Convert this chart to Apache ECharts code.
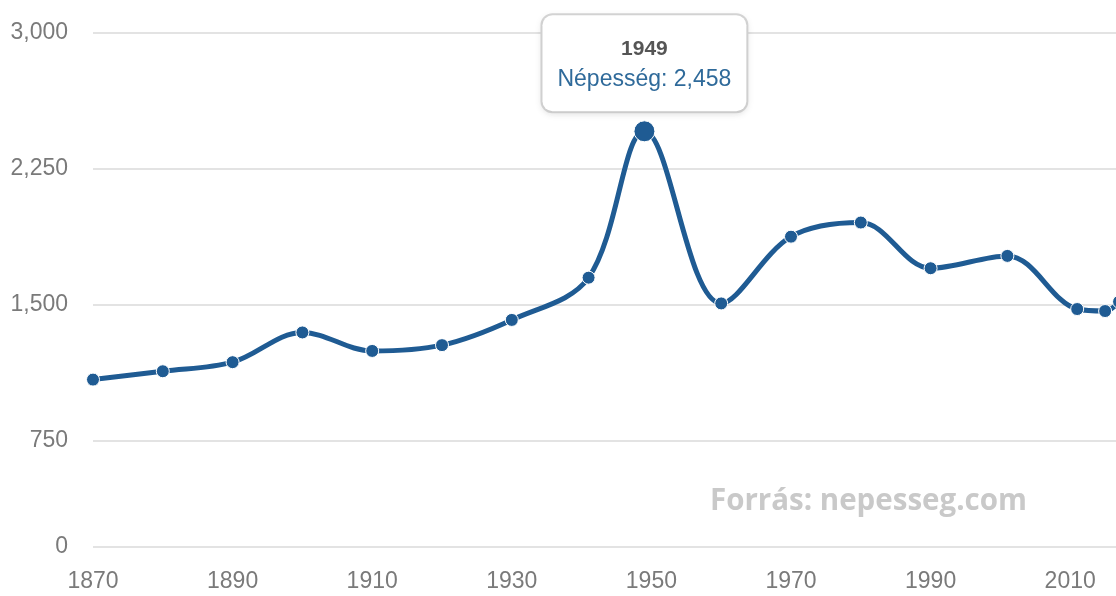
<!DOCTYPE html>
<html>
<head>
<meta charset="utf-8">
<script src="https://cdn.jsdelivr.net/npm/echarts@6/dist/echarts.min.js"></script>
<style>
	html, body { margin: 0; padding: 0; background: #fff; }
	#chart { width: 1116px; height: 596px; }
</style>
</head>
<body>
<div id="chart"></div>
<script>
const years = [1870, 1880, 1890, 1900, 1910, 1920, 1930, 1941, 1949, 1960, 1970, 1980, 1990, 2001, 2011, 2015, 2017]
const population = [1089, 1135, 1185, 1349, 1247, 1279, 1418, 1651, 2458, 1509, 1877, 1955, 1703, 1771, 1478, 1467, 1518]
const highlightYear = 1949

// the reference squeezes its lowest band, so the "0" line sits at this value
const yBase = 166
const yTickValues = [yBase, 750, 1500, 2250, 3000]
const yTickLabels = ['0', '750', '1,500', '2,250', '3,000']

const lineColor = '#1f5b93'
const fmt = v => v.toLocaleString('en-US')

const chart = echarts.init(document.getElementById('chart'))

const seriesData = years.map((y, i) => {
	const item = { value: [y, population[i]] }
	if (y === highlightYear) {
		item.symbolSize = 21
		item.label = {
			show: true,
			position: 'top',
			distance: 9,
			formatter: p => `{year|${p.value[0]}}\n{val|Népesség: ${fmt(p.value[1])}}`,
			backgroundColor: '#fff',
			borderColor: '#d6d6d6',
			borderWidth: 2,
			borderRadius: 10,
			padding: [18, 15, 16, 15],
			shadowColor: 'rgba(0,0,0,0.08)',
			shadowBlur: 6,
			shadowOffsetY: 2,
			align: 'center',
			rich: {
				year: { fontSize: 21, fontWeight: 'bold', color: '#555', lineHeight: 31, align: 'center', fontFamily: 'Liberation Sans' },
				val: { fontSize: 23, color: '#2f6a9a', lineHeight: 31, align: 'center', fontFamily: 'Liberation Sans' },
			},
		}
	}
	return item
})

const option = {
	animation: false,
	grid: { left: 93, width: 1047, top: 33, bottom: 49, outerBoundsMode: 'none' },
	xAxis: {
		type: 'value',
		min: 1870,
		max: 2020,
		interval: 20,
		axisLine: { show: false },
		axisTick: { show: false },
		splitLine: { show: false },
		axisLabel: {
			margin: 23,
			fontSize: 23,
			color: '#7a7a7a',
			fontFamily: 'Liberation Sans',
			showMaxLabel: false,
			formatter: v => String(v),
		},
	},
	yAxis: {
		type: 'value',
		min: yBase,
		max: 3000,
		axisLine: { show: false },
		axisTick: { show: false, customValues: yTickValues },
		splitLine: { show: true, lineStyle: { color: '#e3e3e3', width: 2 } },
		axisLabel: {
			margin: 25,
			fontSize: 23,
			color: '#7a7a7a',
			fontFamily: 'Liberation Sans',
			customValues: yTickValues,
			formatter: v => yTickLabels[yTickValues.indexOf(v)] ?? '',
		},
	},
	series: [
		{
			type: 'line',
			data: seriesData,
			smooth: 0.35,
			symbol: 'circle',
			symbolSize: 13,
			lineStyle: { color: lineColor, width: 5 },
			itemStyle: { color: lineColor, borderColor: '#fff', borderWidth: 1 },
			z: 3,
		},
	],
	graphic: [
		{
			type: 'text',
			left: 710,
			top: 487,
			style: {
				text: 'Forrás: nepesseg.com',
				fontSize: 29.5,
				fontWeight: 'bold',
				fontFamily: 'Open Sans',
				fill: '#c9c9c9',
			},
		},
	],
}

chart.setOption(option)
</script>
</body>
</html>
